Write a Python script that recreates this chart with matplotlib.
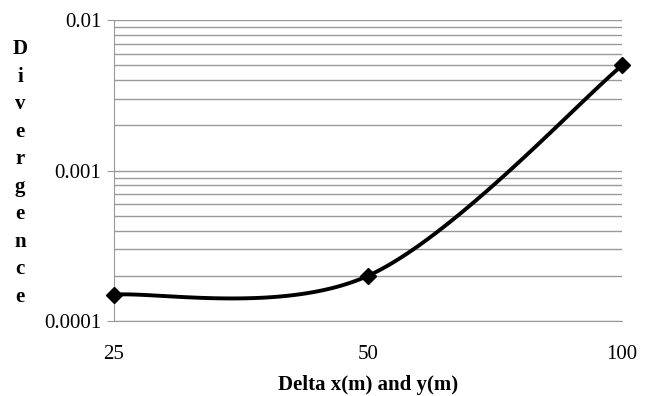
import numpy as np
import matplotlib
matplotlib.use("Agg")
from matplotlib import pyplot as plt

# data
x_labels = ["25", "50", "100"]
divergence = [0.00015, 0.0002, 0.005]


def excel_smooth(xs, ys, n=60):
    # Bezier smoothing similar to Excel's "smoothed line"
    pts = np.column_stack([xs, ys])
    out = []
    for i in range(len(pts) - 1):
        p0 = pts[max(i - 1, 0)]
        p1 = pts[i]
        p2 = pts[i + 1]
        p3 = pts[min(i + 2, len(pts) - 1)]
        c1 = p1 + (p2 - p0) / 6.0
        c2 = p2 - (p3 - p1) / 6.0
        t = np.linspace(0, 1, n)[:, None]
        seg = ((1 - t) ** 3) * p1 + 3 * ((1 - t) ** 2) * t * c1 + 3 * (1 - t) * t ** 2 * c2 + t ** 3 * p2
        out.append(seg if i == 0 else seg[1:])
    return np.vstack(out)


plt.rcParams['font.family'] = ['Liberation Serif', 'DejaVu Serif']

fig, ax = plt.subplots(figsize=(6.5, 3.96), dpi=100)
fig.subplots_adjust(left=0.175, right=0.957, top=0.949, bottom=0.189)

xpos = np.arange(len(x_labels))
curve = excel_smooth(xpos, np.log10(divergence))
ax.plot(curve[:, 0], 10 ** curve[:, 1], color="black", lw=2.8, zorder=3)
ax.plot(xpos, divergence, linestyle="none", marker="D", markersize=8.5,
        color="black", zorder=4, clip_on=False)

ax.set_yscale("log")
ax.set_ylim(0.0001, 0.01)
ax.set_xlim(xpos[0], xpos[-1])
ax.set_xticks(xpos)
ax.set_xticklabels(x_labels)
ax.set_yticks([0.0001, 0.001, 0.01])
ax.set_yticklabels(["0.0001", "0.001", "0.01"])
ax.yaxis.set_minor_formatter(plt.NullFormatter())

ax.grid(True, which="both", axis="y", color="#999999", lw=1.0)
ax.set_axisbelow(True)
for side in ["top", "right"]:
    ax.spines[side].set_visible(False)
for side in ["left", "bottom"]:
    ax.spines[side].set_color("#999999")
ax.tick_params(axis="y", which="major", length=5, color="#999999", labelsize=15, pad=4)
ax.tick_params(axis="y", which="minor", length=0)
ax.tick_params(axis="x", length=0, labelsize=15, pad=17)

ax.set_xlabel("Delta x(m) and y(m)", fontsize=15, fontweight="bold", labelpad=8)
fig.text(0.031, 0.563, "\n".join("Divergence"), fontsize=15, fontweight="bold",
         ha="center", va="center", linespacing=1.5)

plt.savefig("out.png")
